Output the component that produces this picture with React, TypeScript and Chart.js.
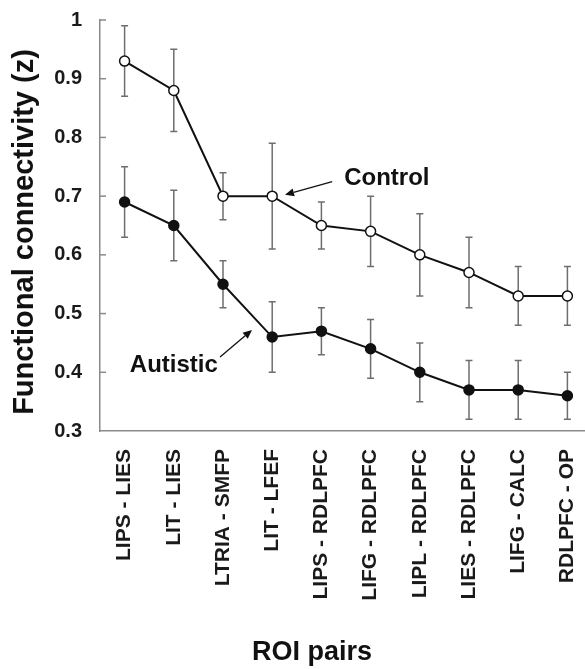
import React, { useEffect, useRef } from "react";
import { Chart, registerables } from "chart.js";

Chart.register(...registerables);

// ---------- data ----------
const categories = [
  "LIPS - LIES",
  "LIT - LIES",
  "LTRIA - SMFP",
  "LIT - LFEF",
  "LIPS - RDLPFC",
  "LIFG - RDLPFC",
  "LIPL - RDLPFC",
  "LIES - RDLPFC",
  "LIFG - CALC",
  "RDLPFC - OP",
];
const controlMean = [0.93, 0.88, 0.7, 0.7, 0.65, 0.64, 0.6, 0.57, 0.53, 0.53];
const controlUpper = [0.99, 0.95, 0.74, 0.79, 0.69, 0.7, 0.67, 0.63, 0.58, 0.58];
const controlLower = [0.87, 0.81, 0.66, 0.61, 0.61, 0.58, 0.53, 0.51, 0.48, 0.48];
const autisticMean = [0.69, 0.65, 0.55, 0.46, 0.47, 0.44, 0.4, 0.37, 0.37, 0.36];
const autisticUpper = [0.75, 0.71, 0.59, 0.52, 0.51, 0.49, 0.45, 0.42, 0.42, 0.4];
const autisticLower = [0.63, 0.59, 0.51, 0.4, 0.43, 0.39, 0.35, 0.32, 0.32, 0.32];
const yTickValues = [0.3, 0.4, 0.5, 0.6, 0.7, 0.8, 0.9, 1];
const yTitle = "Functional connectivity (z)";
const xTitle = "ROI pairs";

// annotations, in (category index, value) units
const annotations = [
  { text: "Control", x: 5.33, y: 0.73, from: [4.22, 0.7246], to: [3.26, 0.7024] },
  { text: "Autistic", x: 1.0, y: 0.411, from: [1.94, 0.426], to: [2.59, 0.472] },
];

const FONT = "'Liberation Sans', Arial, sans-serif";

const errorBarPlugin = {
  id: "errorBars",
  beforeDatasetsDraw(chart: any) {
    const ctx = chart.ctx;
    const x = chart.scales.x;
    const y = chart.scales.y;
    ctx.save();
    ctx.strokeStyle = "#6e6e6e";
    ctx.lineWidth = 1.5;
    const sets = [
      [controlUpper, controlLower],
      [autisticUpper, autisticLower],
    ];
    sets.forEach(([up, lo]) => {
      up.forEach((u: number, i: number) => {
        const px = x.getPixelForValue(i);
        const pu = y.getPixelForValue(u);
        const pl = y.getPixelForValue(lo[i]);
        ctx.beginPath();
        ctx.moveTo(px, pu);
        ctx.lineTo(px, pl);
        ctx.moveTo(px - 3.5, pu);
        ctx.lineTo(px + 3.5, pu);
        ctx.moveTo(px - 3.5, pl);
        ctx.lineTo(px + 3.5, pl);
        ctx.stroke();
      });
    });
    ctx.restore();
  },
  afterDraw(chart: any) {
    const ctx = chart.ctx;
    const x = chart.scales.x;
    const y = chart.scales.y;
    const x0 = x.getPixelForValue(0);
    const step = x.getPixelForValue(1) - x0;
    const px = (v: number) => x0 + v * step;
    const py = (v: number) => y.getPixelForValue(v);
    const area = chart.chartArea;
    ctx.save();
    // inward y ticks
    ctx.strokeStyle = "#8a8a8a";
    ctx.lineWidth = 1.5;
    yTickValues.forEach((v) => {
      if (v === yTickValues[0]) return;
      const yy = py(v);
      ctx.beginPath();
      ctx.moveTo(area.left, yy);
      ctx.lineTo(area.left + 6, yy);
      ctx.stroke();
    });
    // annotations
    ctx.fillStyle = "#111";
    ctx.strokeStyle = "#111";
    ctx.font = `bold 24px ${FONT}`;
    ctx.textAlign = "center";
    ctx.textBaseline = "middle";
    annotations.forEach((a) => {
      ctx.fillText(a.text, px(a.x), py(a.y));
      const fx = px(a.from[0]);
      const fy = py(a.from[1]);
      const tx = px(a.to[0]);
      const ty = py(a.to[1]);
      const ang = Math.atan2(ty - fy, tx - fx);
      const hl = 9;
      const hw = 4;
      const bx = tx - hl * Math.cos(ang);
      const by = ty - hl * Math.sin(ang);
      ctx.lineWidth = 1.3;
      ctx.beginPath();
      ctx.moveTo(fx, fy);
      ctx.lineTo(bx, by);
      ctx.stroke();
      ctx.beginPath();
      ctx.moveTo(tx, ty);
      ctx.lineTo(bx + hw * Math.sin(ang), by - hw * Math.cos(ang));
      ctx.lineTo(bx - hw * Math.sin(ang), by + hw * Math.cos(ang));
      ctx.closePath();
      ctx.fill();
    });
    // axis titles
    ctx.font = `bold 29px ${FONT}`;
    ctx.save();
    ctx.translate(25, 232);
    ctx.rotate(-Math.PI / 2);
    ctx.fillText(yTitle, 0, 0);
    ctx.restore();
    ctx.font = `bold 27px ${FONT}`;
    ctx.textBaseline = "alphabetic";
    ctx.fillText(xTitle, 312, 660);
    ctx.restore();
  },
};

export default function App() {
  const ref = useRef<HTMLCanvasElement | null>(null);
  useEffect(() => {
    if (!ref.current) return;
    const chart = new Chart(ref.current, {
      type: "line",
      data: {
        labels: categories,
        datasets: [
          {
            label: "Control",
            data: controlMean,
            borderColor: "#111",
            borderWidth: 2,
            pointBackgroundColor: "#fff",
            pointBorderColor: "#111",
            pointBorderWidth: 1.5,
            pointRadius: 5,
            tension: 0,
            clip: false,
          },
          {
            label: "Autistic",
            data: autisticMean,
            borderColor: "#111",
            borderWidth: 2,
            pointBackgroundColor: "#111",
            pointBorderColor: "#111",
            pointBorderWidth: 1.5,
            pointRadius: 5,
            tension: 0,
            clip: false,
          },
        ],
      },
      options: {
        animation: false,
        responsive: false,
        events: [],
        layout: { autoPadding: false, padding: { top: 20, right: 0, left: 0, bottom: 0 } },
        plugins: {
          legend: { display: false },
          tooltip: { enabled: false },
          title: { display: false },
        },
        scales: {
          x: {
            type: "category",
            offset: true,
            grid: { display: false, drawTicks: true, tickLength: 18 },
            border: { display: true, color: "#8a8a8a", width: 1.5 },
            ticks: {
              autoSkip: false,
              maxRotation: 90,
              minRotation: 90,
              padding: 0,
              color: "#1a1a1a",
              font: { family: FONT, size: 21, weight: "bold" },
            },
            afterFit: (scale: any) => {
              scale.height = 238;
              scale.paddingLeft = 0;
              scale.paddingRight = 0;
            },
          },
          y: {
            min: 0.3,
            max: 1,
            grid: { display: false, drawTicks: true, tickLength: 18 },
            border: { display: true, color: "#8a8a8a", width: 1.5 },
            afterBuildTicks: (scale: any) => {
              scale.ticks = yTickValues.map((v) => ({ value: v }));
            },
            ticks: {
              padding: 0,
              color: "#1a1a1a",
              font: { family: FONT, size: 20, weight: "bold" },
              callback: (v: any) => String(Number(Number(v).toFixed(1))),
            },
            afterFit: (scale: any) => {
              scale.width = 100;
            },
          },
        },
      },
      plugins: [errorBarPlugin],
    });
    return () => chart.destroy();
  }, []);
  return (
    <div
      style={{
        position: "absolute",
        left: 0,
        top: 0,
        width: 585,
        height: 669,
        overflow: "hidden",
        background: "#fff",
      }}
    >
      <canvas ref={ref} width={592} height={669} style={{ display: "block" }} />
    </div>
  );
}
